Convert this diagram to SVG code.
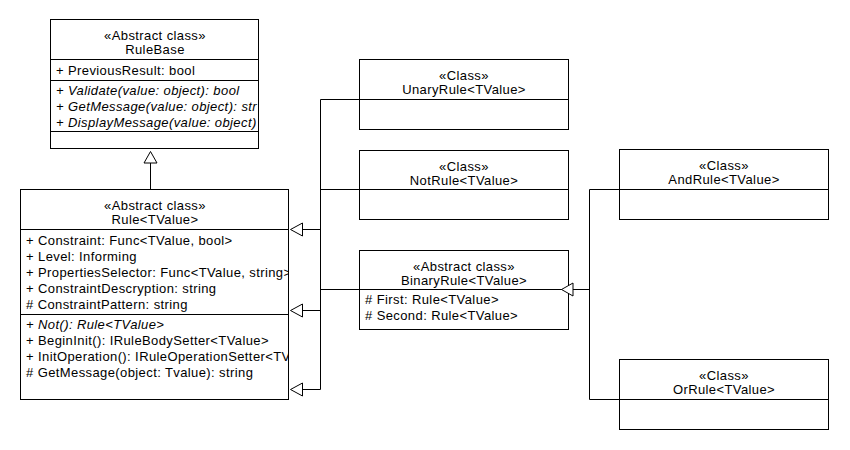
<svg xmlns="http://www.w3.org/2000/svg" width="850" height="450" viewBox="0 0 850 450">
<style>
.box{fill:#ffffff;stroke:#000000;stroke-width:1}
.div{stroke:#000000;stroke-width:1;fill:none}
.t{font-family:"Liberation Sans",Arial,sans-serif;font-size:13px;letter-spacing:0.4px;fill:#000000}
.c{text-anchor:middle}
.i{font-style:italic}
.conn{fill:none;stroke:#000000;stroke-width:1}
.head{fill:#ffffff;stroke:#000000;stroke-width:1}
</style>
<defs>
<clipPath id="clipRuleBase"><rect x="51" y="20" width="207" height="128"/></clipPath>
<clipPath id="clipRule"><rect x="21" y="190" width="267" height="208"/></clipPath>
</defs>
<rect x="0" y="0" width="850" height="450" fill="#ffffff"/>

<g id="connectors">
<path class="conn" d="M150.5,163 V189.5"/>
<polygon class="head" points="150.5,151.5 144,163 157,163"/>
<path class="conn" d="M359.5,99.5 H320.5 V229.5 H302"/>
<path class="conn" d="M359.5,189.5 H320.5 V310.5 H302"/>
<path class="conn" d="M359.5,289.5 H320.5 V389.5 H302"/>
<polygon class="head" points="290.5,229.5 302.5,223 302.5,236"/>
<polygon class="head" points="290.5,310.5 302.5,304 302.5,317"/>
<polygon class="head" points="290.5,389.5 302.5,383 302.5,396"/>
<path class="conn" d="M619.5,189.5 H589.5 V399.5 H619.5"/>
<path class="conn" d="M589.5,289.5 H573"/>
</g>

<g id="RuleBase">
<rect class="box" x="50.5" y="19.5" width="208" height="129"/>
<line class="div" x1="50.5" y1="59.5" x2="258.5" y2="59.5"/>
<line class="div" x1="50.5" y1="80.5" x2="258.5" y2="80.5"/>
<line class="div" x1="50.5" y1="131.5" x2="258.5" y2="131.5"/>
<text class="t c" x="155" y="40">«Abstract class»</text>
<text class="t c" x="155" y="54">RuleBase</text>
<g clip-path="url(#clipRuleBase)">
<text class="t" x="56" y="75">+ PreviousResult: bool</text>
<text class="t i" x="56" y="95">+ Validate(value: object): bool</text>
<text class="t i" x="56" y="111">+ GetMessage(value: object): str</text>
<text class="t i" x="56" y="127">+ DisplayMessage(value: object)</text>
</g>
</g>

<g id="Rule">
<rect class="box" x="20.5" y="189.5" width="268" height="210"/>
<line class="div" x1="20.5" y1="229.5" x2="288.5" y2="229.5"/>
<line class="div" x1="20.5" y1="314.5" x2="288.5" y2="314.5"/>
<text class="t c" x="155" y="210">«Abstract class»</text>
<text class="t c" x="155" y="224">Rule&lt;TValue&gt;</text>
<g clip-path="url(#clipRule)">
<text class="t" x="26" y="245">+ Constraint: Func&lt;TValue, bool&gt;</text>
<text class="t" x="26" y="261">+ Level: Informing</text>
<text class="t" x="26" y="277">+ PropertiesSelector: Func&lt;TValue, string&gt;</text>
<text class="t" x="26" y="293">+ ConstraintDescryption: string</text>
<text class="t" x="26" y="309"># ConstraintPattern: string</text>
<text class="t i" x="26" y="329">+ Not(): Rule&lt;TValue&gt;</text>
<text class="t" x="26" y="345">+ BeginInit(): IRuleBodySetter&lt;TValue&gt;</text>
<text class="t" x="26" y="361">+ InitOperation(): IRuleOperationSetter&lt;TV</text>
<text class="t" x="26" y="377"># GetMessage(object: Tvalue): string</text>
</g>
</g>

<g id="UnaryRule">
<rect class="box" x="359.5" y="59.5" width="209" height="70"/>
<line class="div" x1="359.5" y1="99.5" x2="568.5" y2="99.5"/>
<text class="t c" x="464" y="79.5">«Class»</text>
<text class="t c" x="464" y="93.5">UnaryRule&lt;TValue&gt;</text>
</g>

<g id="NotRule">
<rect class="box" x="359.5" y="150.5" width="209" height="69"/>
<line class="div" x1="359.5" y1="189.5" x2="568.5" y2="189.5"/>
<text class="t c" x="464" y="170.5">«Class»</text>
<text class="t c" x="464" y="184.5">NotRule&lt;TValue&gt;</text>
</g>

<g id="BinaryRule">
<rect class="box" x="359.5" y="250.5" width="209" height="79"/>
<line class="div" x1="359.5" y1="289.5" x2="568.5" y2="289.5"/>
<text class="t c" x="464" y="270.5">«Abstract class»</text>
<text class="t c" x="464" y="284.5">BinaryRule&lt;TValue&gt;</text>
<text class="t" x="365" y="304"># First: Rule&lt;TValue&gt;</text>
<text class="t" x="365" y="320"># Second: Rule&lt;TValue&gt;</text>
</g>

<g id="AndRule">
<rect class="box" x="619.5" y="149.5" width="209" height="70"/>
<line class="div" x1="619.5" y1="189.5" x2="828.5" y2="189.5"/>
<text class="t c" x="724" y="169.5">«Class»</text>
<text class="t c" x="724" y="183.5">AndRule&lt;TValue&gt;</text>
</g>

<g id="OrRule">
<rect class="box" x="619.5" y="359.5" width="209" height="70"/>
<line class="div" x1="619.5" y1="399.5" x2="828.5" y2="399.5"/>
<text class="t c" x="724" y="379.5">«Class»</text>
<text class="t c" x="724" y="393.5">OrRule&lt;TValue&gt;</text>
</g>

<g id="arrowBinary">
<polygon class="head" points="561.5,289.5 573,283 573,296"/>
</g>
</svg>
